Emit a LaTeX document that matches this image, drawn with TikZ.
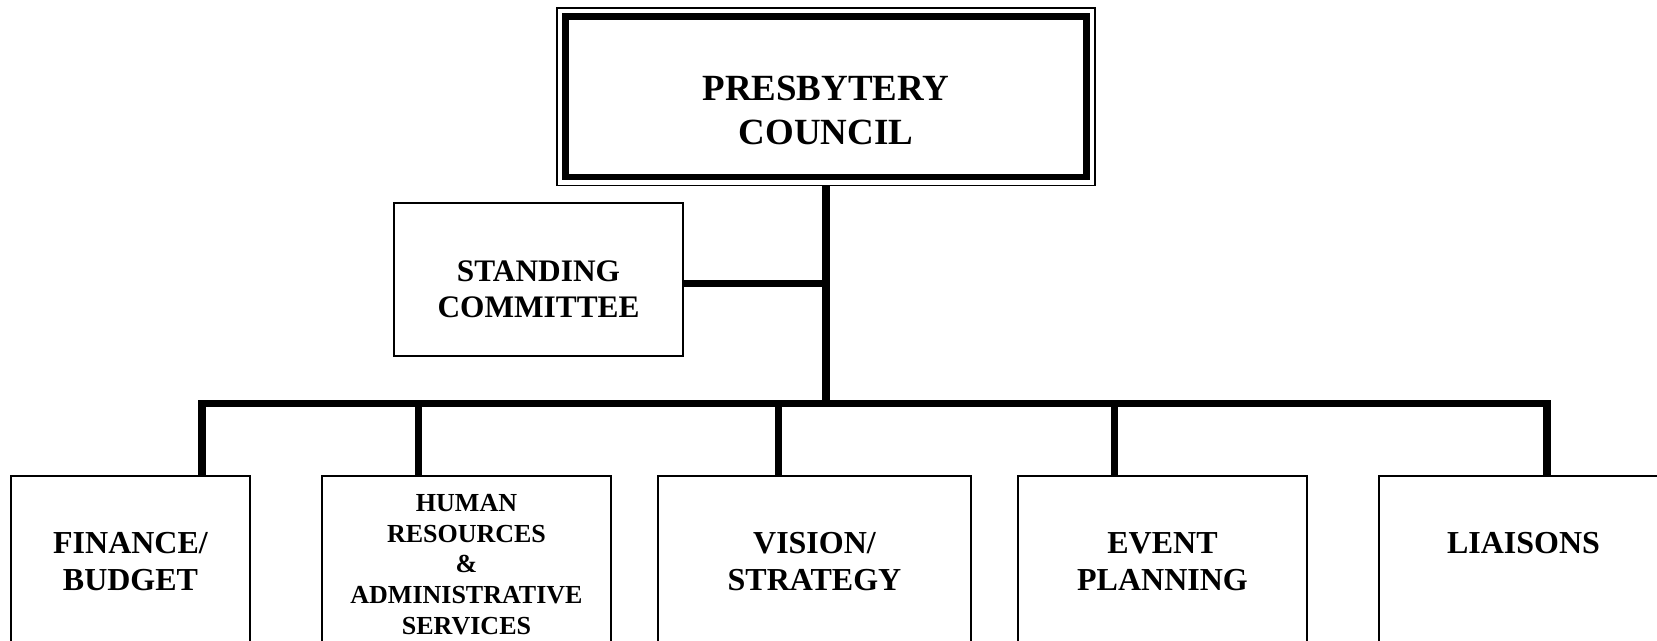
\documentclass[tikz,border=0pt]{standalone}
\usepackage{fontspec}
\setmainfont{Liberation Serif}
\usetikzlibrary{positioning}

\tikzset{every picture/.style={line width=0.75pt}}
\tikzset{
  thinbox/.style={draw, rectangle, inner sep=0pt, outer sep=0pt, line width=1.3pt},
  unitbox/.style={thinbox, anchor=north, minimum height=150pt},
  link/.style={line width=5.6pt},
  heavy/.style={line width=5.2pt},
  boxtext/.style={align=center, inner sep=0pt, font=\bfseries\fontsize{24}{27.7}\selectfont},
}

\begin{document}
\begin{tikzpicture}[x=0.75pt,y=0.75pt,yscale=-1,xscale=1]
\useasboundingbox (0,0) rectangle (1657,641);

%Council frame
\node [thinbox, minimum width=403.5pt, minimum height=133.1pt] (pc) at (826,96.75) {};
\draw [heavy] ([shift={(8.5,8.5)}]pc.north west) rectangle ([shift={(-8.5,-8.5)}]pc.south east);
\node [boxtext, font=\bfseries\fontsize{27.7}{32.5}\selectfont] (pcT) at (826,110.4) {PRESBYTERY\\COUNCIL};

%Standing committee
\node [thinbox, minimum width=216.75pt, minimum height=114.75pt] (sc) at (538.5,279.5) {};
\node [boxtext, font=\bfseries\fontsize{23.5}{27}\selectfont] (scT) at (538.5,289.5) {STANDING\\COMMITTEE};

%Committees
\node [unitbox, minimum width=179.25pt] (fin) at (130.5,476) {};
\node [unitbox, minimum width=216.75pt] (hr) at (466.5,476) {};
\node [unitbox, minimum width=234.75pt] (vis) at (814.5,476) {};
\node [unitbox, minimum width=216.75pt] (evt) at (1162.5,476) {};
\node [unitbox, minimum width=216.75pt] (lia) at (1523.5,476) {};

% Text Node
\node [boxtext] (finT) at (130.5,561.5) {FINANCE/\\BUDGET};
% Text Node
\node [boxtext, font=\bfseries\fontsize{19.5}{23}\selectfont] (hrT) at (466.5,564.5) {HUMAN\\RESOURCES\\\&\\ADMINISTRATIVE\\SERVICES};
% Text Node
\node [boxtext] (visT) at (814.5,561.5) {VISION/\\STRATEGY};
% Text Node
\node [boxtext] (evtT) at (1162.5,561.5) {EVENT\\PLANNING};
% Text Node
\node [boxtext] (liaT) at (1523.5,543) {LIAISONS};

%Bus and drops
\coordinate (busL) at (202,403.5);
\coordinate (busR) at (1547,403.5);
\coordinate (d2) at (418.5,403.5);
\coordinate (d3) at (778.5,403.5);
\coordinate (d4) at (1114.5,403.5);
\draw [link] (fin.north -| busL) |- (busR) -- (lia.north -| busR);
\draw [link] (d2) -- (hr.north -| d2);
\draw [link] (d3) -- (vis.north -| d3);
\draw [link] (d4) -- (evt.north -| d4);

%Trunk
\coordinate (scR) at ([yshift=3.2pt]sc.east);
\draw [link] (pc.south) -- (pc.south |- busL);
\draw [link] (scR) -- (scR -| pc.south);

\end{tikzpicture}
\end{document}
